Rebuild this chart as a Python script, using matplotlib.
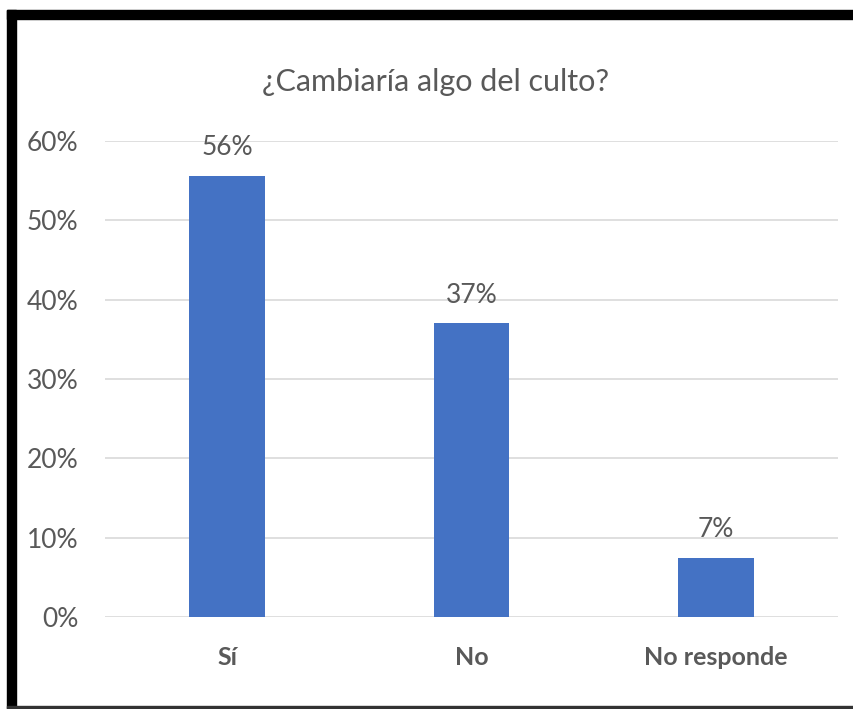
import numpy as np
import matplotlib.pyplot as plt
from matplotlib.patches import Rectangle

plt.rcParams['font.family'] = ['Lato', 'DejaVu Sans']

categorias = ['Sí', 'No', 'No responde']
valores = [0.556, 0.370, 0.074]
etiquetas = ['56%', '37%', '7%']
yticks = [0, 0.1, 0.2, 0.3, 0.4, 0.5, 0.6]

gris = '#595959'
azul = '#4472C4'

fig = plt.figure(figsize=(8.54, 7.09), dpi=100)
ax = fig.add_axes([0.123, 0.130, 0.858, 0.671])

x = np.arange(len(categorias))
barras = ax.bar(x, valores, width=0.31, color=azul, zorder=3)
for b, et in zip(barras, etiquetas):
    ax.text(b.get_x() + b.get_width() / 2, b.get_height() + 0.02, et,
            ha='center', va='bottom', fontsize=19, color=gris)

ax.set_ylim(0, 0.6)
ax.set_xlim(-0.5, 2.5)
ax.set_yticks(yticks)
ax.set_yticklabels([f'{int(round(t * 100))}%' for t in yticks])
ax.set_xticks(x)
ax.set_xticklabels(categorias, fontweight='bold')
ax.tick_params(axis='y', labelsize=19, labelcolor=gris, length=0, pad=19)
ax.tick_params(axis='x', labelsize=18, labelcolor=gris, length=0, pad=21)
ax.grid(axis='y', color='#d9d9d9', linewidth=1.2, zorder=0)
for s in ax.spines.values():
    s.set_visible(False)

fig.text(0.51, 0.885, '¿Cambiaría algo del culto?', ha='center', va='center',
         fontsize=22, color=gris)

# marco negro de la captura
fig.patches.append(Rectangle((7 / 854, 0), 9 / 854, 1 - 10 / 709, transform=fig.transFigure,
                             color='black', zorder=5))
fig.patches.append(Rectangle((7 / 854, 1 - 19 / 709), 1, 9 / 709, transform=fig.transFigure,
                             color='black', zorder=5))
fig.patches.append(Rectangle((7 / 854, 1 / 709), 1, 2 / 709, transform=fig.transFigure,
                             color='#333333', zorder=5))

fig.savefig('out.png', dpi=100)
